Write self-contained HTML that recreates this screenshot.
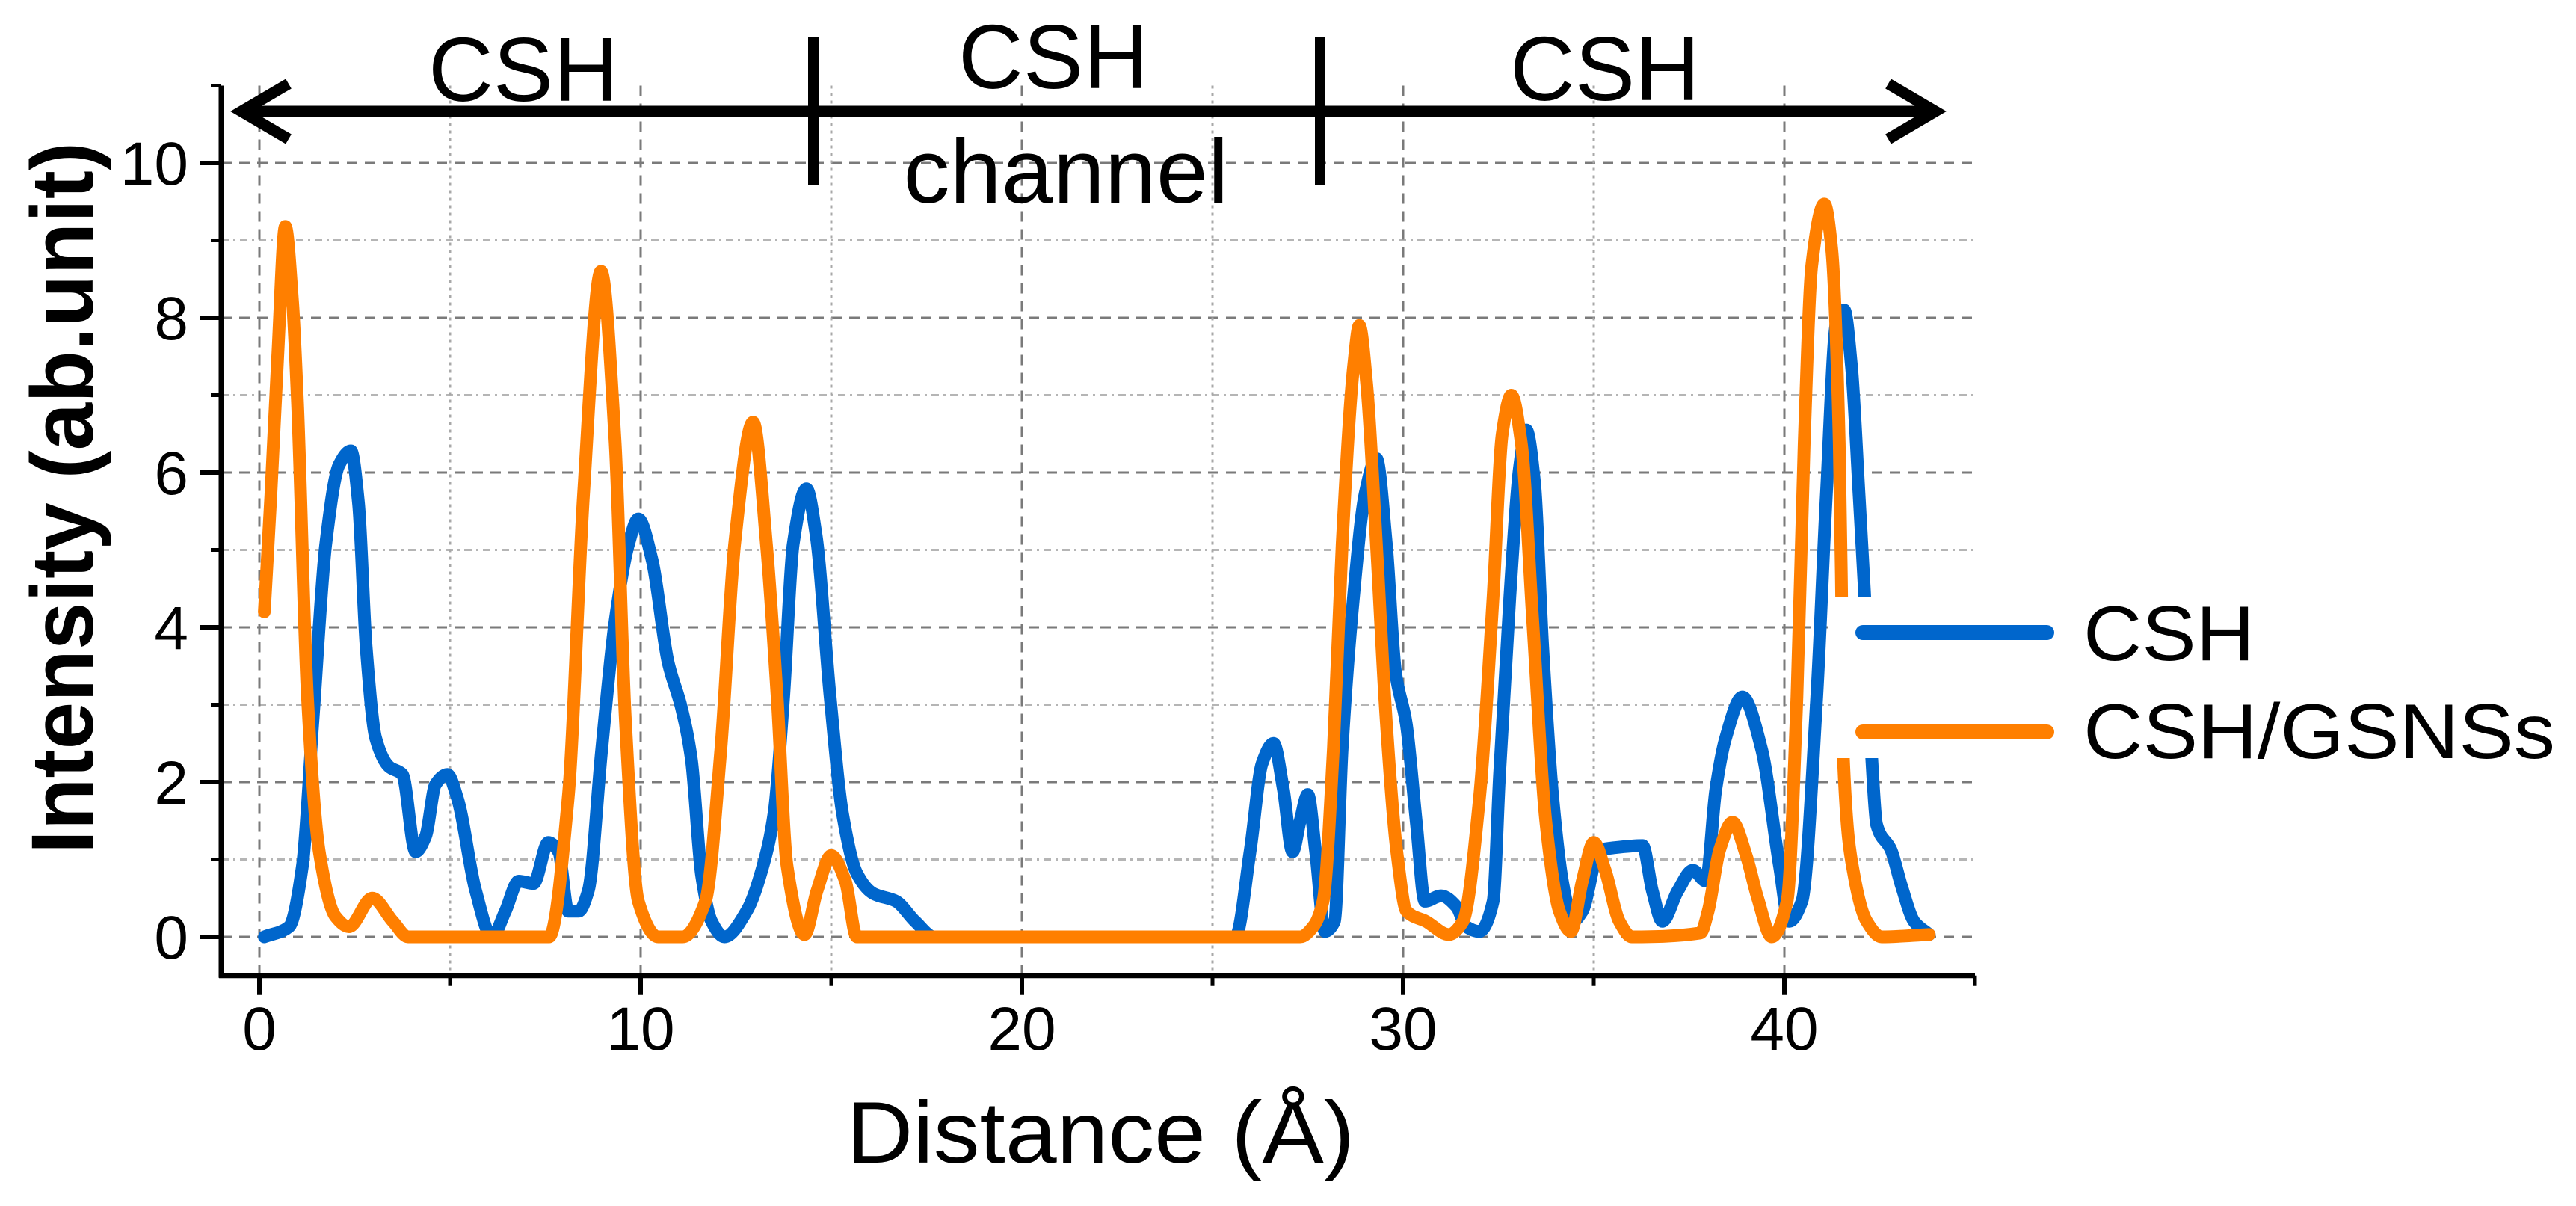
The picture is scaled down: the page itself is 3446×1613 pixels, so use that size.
<!DOCTYPE html>
<html><head><meta charset="utf-8"><style>
html,body{margin:0;padding:0;background:#fff;}
svg{display:block;}
text{font-family:"Liberation Sans",Arial,sans-serif;fill:#000;}
</style></head><body>
<svg id="chart" xmlns="http://www.w3.org/2000/svg" width="3446" height="1613" viewBox="0 0 3446 1613">
<g id="grid"></g>
<g id="axes"></g>
<g id="series"></g>
<g>
  <line x1="330" y1="149" x2="2584" y2="149" stroke="#000" stroke-width="15"/>
  <polyline points="386,112 323,149 386,186" fill="none" stroke="#000" stroke-width="15" stroke-linejoin="miter"/>
  <polyline points="2526,112 2589,149 2526,186" fill="none" stroke="#000" stroke-width="15" stroke-linejoin="miter"/>
  <line x1="1088" y1="49" x2="1088" y2="247" stroke="#000" stroke-width="14"/>
  <line x1="1766" y1="49" x2="1766" y2="247" stroke="#000" stroke-width="14"/>
  <text x="700" y="135" font-size="122" text-anchor="middle" textLength="254" lengthAdjust="spacingAndGlyphs">CSH</text>
  <text x="1409" y="118" font-size="122" text-anchor="middle" textLength="254" lengthAdjust="spacingAndGlyphs">CSH</text>
  <text x="1426" y="271" font-size="122" text-anchor="middle" textLength="435" lengthAdjust="spacingAndGlyphs">channel</text>
  <text x="2147" y="134" font-size="122" text-anchor="middle" textLength="254" lengthAdjust="spacingAndGlyphs">CSH</text>
</g>
<g>
  <rect x="2450" y="799" width="996" height="215" fill="#fff"/>
  <line x1="2492" y1="846" x2="2738" y2="846" stroke="#0066CC" stroke-width="20" stroke-linecap="round"/>
  <text x="2787" y="883" font-size="104" textLength="229" lengthAdjust="spacingAndGlyphs">CSH</text>
  <line x1="2492" y1="979" x2="2738" y2="979" stroke="#FF7F00" stroke-width="20" stroke-linecap="round"/>
  <text x="2787" y="1014" font-size="104" textLength="631" lengthAdjust="spacingAndGlyphs">CSH/GSNSs</text>
</g>
<text x="1472" y="1555" font-size="117" text-anchor="middle" textLength="680" lengthAdjust="spacingAndGlyphs">Distance (Å)</text>
<text transform="translate(124,666) rotate(-90)" x="0" y="0" font-size="118" font-weight="bold" text-anchor="middle" textLength="952" lengthAdjust="spacingAndGlyphs">Intensity (ab.unit)</text>
</svg>
<script>
const cshX = [0.13,0.78,1.13,1.4,1.74,2.09,2.4,2.6,2.8,3.05,3.4,3.75,4.1,4.36,4.62,4.93,5.2,5.67,6.1,6.45,6.8,7.19,7.58,7.85,8.1,8.37,8.63,8.98,9.33,9.68,9.94,10.3,10.72,11.07,11.33,11.6,11.86,12.2,12.8,13.2,13.5,13.75,14.0,14.35,14.6,14.97,15.3,15.67,16.1,16.7,17.2,17.7,25.6,25.99,26.3,26.6,26.86,27.1,27.3,27.5,27.7,27.95,28.2,28.4,28.7,29.0,29.3,29.56,29.8,30.08,30.35,30.57,31.0,31.4,31.66,32.0,32.36,32.53,32.8,33.05,33.23,33.45,33.66,33.93,34.2,34.45,34.7,35.15,35.5,36.28,36.54,36.8,37.2,37.6,37.94,38.2,38.46,38.9,39.4,39.87,40.13,40.46,40.85,41.1,41.37,41.57,41.76,41.96,42.1,42.3,42.42,42.8,43.07,43.4,43.8];
const cshY = [0,0.13,0.92,2.76,5.07,6.1,6.28,5.6,3.75,2.57,2.2,2.1,1.1,1.3,1.97,2.1,1.78,0.6,0,0.33,0.72,0.69,1.22,1.1,0.33,0.33,0.6,2.43,4.08,5.07,5.4,4.87,3.55,2.96,2.3,0.79,0.2,0,0.35,0.9,1.6,3.1,5.07,5.79,5.2,3.1,1.58,0.82,0.56,0.46,0.2,0,0,1.12,2.24,2.5,1.9,1.1,1.5,1.84,1.12,0.07,0.2,2.43,4.4,5.72,6.18,5.07,3.42,2.76,1.45,0.46,0.53,0.39,0.13,0.07,0.46,2.1,4.4,6.05,6.55,5.86,3.75,1.78,0.66,0.2,0.33,1.12,1.15,1.18,0.59,0.2,0.59,0.86,0.72,1.9,2.57,3.1,2.43,0.92,0.2,0.46,3.1,5.7,7.96,8.1,7.37,5.7,4.47,2.24,1.45,1.12,0.66,0.2,0.03];
const gsnsX = [0.13,0.3,0.48,0.68,0.87,1.0,1.26,1.57,2.0,2.35,2.96,3.5,3.9,7.6,8.1,8.5,8.96,9.33,9.6,9.94,10.46,11.1,11.7,12.1,12.47,12.95,13.3,13.58,13.84,14.3,14.63,15.0,15.37,15.67,27.3,27.64,27.9,28.17,28.4,28.7,28.85,29.04,29.3,29.56,29.83,30.09,30.6,31.2,31.57,32.0,32.36,32.6,32.84,33.1,33.4,33.75,34.1,34.4,34.7,35.0,35.3,35.67,36.0,37.8,38.0,38.3,38.64,39.0,39.3,39.67,40.07,40.33,40.52,40.72,41.05,41.24,41.44,41.5,41.55,41.83,42.16,42.55,43.8];
const gsnsY = [4.2,5.7,7.5,9.18,8.2,6.9,3.1,1.1,0.26,0.13,0.5,0.2,0,0,1.8,5.7,8.6,6.4,2.8,0.46,0,0,0.46,2.4,5.1,6.65,5.07,3.1,0.92,0.03,0.6,1.05,0.72,0,0,0.13,0.46,2.43,5.07,7.37,7.9,7.17,5.07,2.76,1.12,0.33,0.2,0.03,0.2,1.78,4.4,6.5,7.0,6.38,4.08,1.45,0.33,0.07,0.72,1.22,0.86,0.2,0,0.05,0.33,1.12,1.48,1.05,0.5,0,0.46,3.1,6.38,8.68,9.47,8.9,6.38,4.47,2.3,0.79,0.2,0,0.03];
const xTickValues = [0,10,20,30,40];
const xTickLabels = ["0","10","20","30","40"];
const xMinorValues = [5,15,25,35,45];
const yTickValues = [0,2,4,6,8,10];
const yTickLabels = ["0","2","4","6","8","10"];
const yMinorValues = [1,3,5,7,9,11];

const X0 = 347, XS = 51.0, Y0 = 1253, YS = 103.5;
const xMin = -1, xMax = 45, yMin = -0.5, yMax = 11;
function sx(v){ return X0 + v*XS; }
function sy(v){ return Y0 - v*YS; }
const NS = "http://www.w3.org/2000/svg";
function mk(tag, attrs, parent){ const e=document.createElementNS(NS,tag); for(const k in attrs) e.setAttribute(k, attrs[k]); parent.appendChild(e); return e; }

const gridG = document.getElementById('grid');
const axesG = document.getElementById('axes');
const seriesG = document.getElementById('series');
const pl = sx(xMin), pr = sx(xMax), pt = sy(yMax), pb = sy(yMin);

yTickValues.forEach(v => {
  const l = mk('line',{x1:pl,x2:pr,y1:sy(v),y2:sy(v),stroke:'#7a7a7a','stroke-width':3,'stroke-dasharray':'14 10'},gridG);
  
  
});
yMinorValues.forEach(v => {
  if (v >= yMax) return;
  const l = mk('line',{x1:pl,x2:pr,y1:sy(v),y2:sy(v),stroke:'#b5b5b5','stroke-width':3,'stroke-dasharray':'10 6 3 6'},gridG);
  
  
});
xTickValues.forEach(v => {
  const l = mk('line',{x1:sx(v),x2:sx(v),y1:pt,y2:pb,stroke:'#7a7a7a','stroke-width':3,'stroke-dasharray':'14 10'},gridG);
  
  
});
xMinorValues.forEach(v => {
  if (v >= xMax) return;
  const l = mk('line',{x1:sx(v),x2:sx(v),y1:pt,y2:pb,stroke:'#a8a8a8','stroke-width':3,'stroke-dasharray':'4 6'},gridG);
  
  
});

const ya = mk('line',{x1:pl,x2:pl,y1:pt,y2:pb+3,stroke:'#000','stroke-width':7},axesG);


const xa = mk('line',{x1:pl-3,x2:pr,y1:pb,y2:pb,stroke:'#000','stroke-width':7},axesG);


xTickValues.forEach((v,i) => {
  const t = mk('line',{x1:sx(v),x2:sx(v),y1:pb,y2:pb+26,stroke:'#000','stroke-width':6},axesG);
  
  
  const lb = mk('text',{x:sx(v),y:1404,'font-size':82,'text-anchor':'middle'},axesG);
  lb.textContent = xTickLabels[i];
  
  
});
xMinorValues.forEach(v => {
  const t = mk('line',{x1:sx(v),x2:sx(v),y1:pb,y2:pb+14,stroke:'#000','stroke-width':5},axesG);
  
  
});
yTickValues.forEach((v,i) => {
  const t = mk('line',{x1:pl-28,x2:pl,y1:sy(v),y2:sy(v),stroke:'#000','stroke-width':6},axesG);
  
  
  const lb = mk('text',{x:252,y:sy(v)+29,'font-size':82,'text-anchor':'end'},axesG);
  lb.textContent = yTickLabels[i];
  
  
});
yMinorValues.forEach(v => {
  const t = mk('line',{x1:pl-14,x2:pl,y1:sy(v),y2:sy(v),stroke:'#000','stroke-width':5},axesG);
  
  
});

// monotone cubic (Fritsch-Carlson) path in pixel space
function drawLine(xs, ys, color, name){
  const px = xs.map(sx), py = ys.map(sy);
  const n = px.length;
  const dx = [], m = [];
  for (let i = 0; i < n-1; i++) { dx.push(px[i+1]-px[i]); m.push((py[i+1]-py[i])/(px[i+1]-px[i])); }
  const t = new Array(n);
  t[0] = m[0]; t[n-1] = m[n-2];
  for (let i = 1; i < n-1; i++) {
    if (m[i-1]*m[i] <= 0) t[i] = 0;
    else {
      const w1 = 2*dx[i] + dx[i-1], w2 = dx[i] + 2*dx[i-1];
      t[i] = (w1 + w2) / (w1/m[i-1] + w2/m[i]);
    }
  }
  let d = 'M' + px[0].toFixed(1) + ',' + py[0].toFixed(1);
  for (let i = 0; i < n-1; i++) {
    const h = dx[i]/3;
    d += 'C' + (px[i]+h).toFixed(1) + ',' + (py[i]+t[i]*h).toFixed(1) + ' ' +
         (px[i+1]-h).toFixed(1) + ',' + (py[i+1]-t[i+1]*h).toFixed(1) + ' ' +
         px[i+1].toFixed(1) + ',' + py[i+1].toFixed(1);
  }
  const p = mk('path',{d:d,fill:'none',stroke:color,'stroke-width':17,'stroke-linejoin':'round','stroke-linecap':'round'},seriesG);
  
  
}
drawLine(cshX, cshY, '#0066CC', 'series-csh');
drawLine(gsnsX, gsnsY, '#FF7F00', 'series-csh-gsns');
</script>
</body></html>
